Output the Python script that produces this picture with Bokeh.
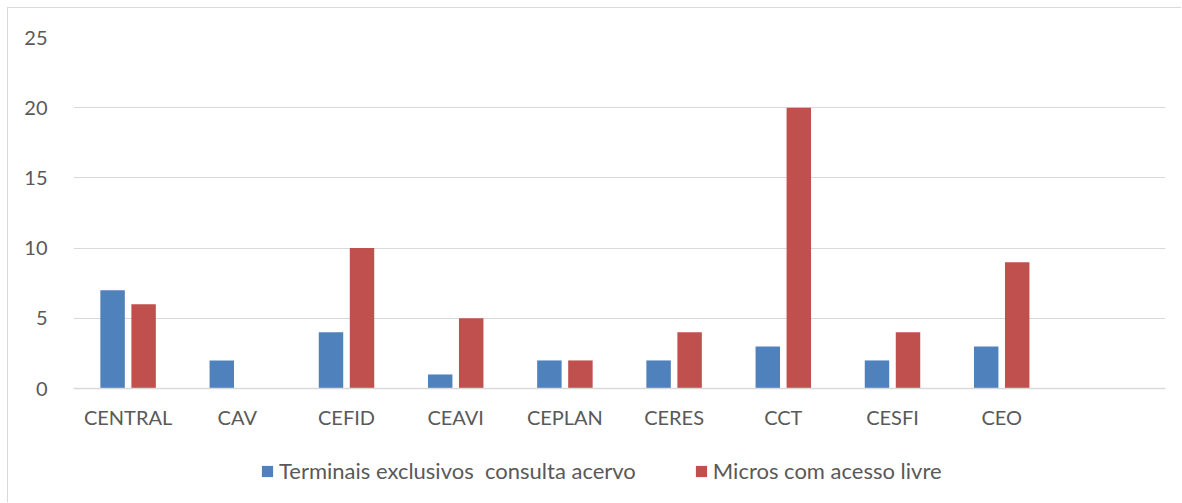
from bokeh.plotting import figure
from bokeh.models import (ColumnDataSource, FactorRange, Range1d, Legend, LegendItem,
                          FixedTicker)
from bokeh.transform import dodge
from bokeh.embed import file_html
from bokeh.resources import INLINE

categories = ["CENTRAL", "CAV", "CEFID", "CEAVI", "CEPLAN", "CERES", "CCT", "CESFI", "CEO"]
terminais = [7, 2, 4, 1, 2, 2, 3, 2, 3]
micros = [6, 0, 10, 5, 2, 4, 20, 4, 9]
series_names = ["Terminais exclusivos  consulta acervo", "Micros com acesso livre"]
y_ticks = [0, 5, 10, 15, 20, 25]

FONT = "Lato"
TXT = "#595959"
GRID = "#d9d9d9"

src = ColumnDataSource(dict(cat=categories, t=terminais, m=micros))

factors = categories + [" "]
# frame extends below zero to hold the axis labels and the legend
p = figure(x_range=FactorRange(factors=factors), y_range=Range1d(-8.19, 25),
           width=1174, height=495, output_backend="svg", toolbar_location=None,
           min_border_left=65, min_border_right=17, min_border_top=29, min_border_bottom=0,
           styles={"margin-left": "7px", "margin-top": "7px",
                   "border-top": "1px solid #d9d9d9", "border-left": "1px solid #d9d9d9"})
p.outline_line_color = None
p.background_fill_color = "white"
p.border_fill_color = "white"

r1 = p.vbar(x=dodge("cat", -0.142, range=p.x_range), top="t", width=0.224, source=src,
            fill_color="#4F81BD", line_color=None)
r2 = p.vbar(x=dodge("cat", 0.142, range=p.x_range), top="m", width=0.224, source=src,
            fill_color="#C0504D", line_color=None)

p.xgrid.grid_line_color = None
p.ygrid.grid_line_color = GRID
p.ygrid.grid_line_width = 1

p.yaxis.ticker = FixedTicker(ticks=y_ticks)
p.yaxis.axis_line_color = None
p.yaxis.major_tick_line_color = None
p.yaxis.minor_tick_line_color = None
p.yaxis.major_label_standoff = 20
p.yaxis.major_label_text_font = FONT
p.yaxis.major_label_text_font_size = "20px"
p.yaxis.major_label_text_color = TXT

p.xaxis.fixed_location = 0
p.xaxis.axis_line_color = GRID
p.xaxis.axis_line_width = 1.5
p.xaxis.major_tick_line_color = None
p.xaxis.minor_tick_line_color = None
p.xaxis.major_label_standoff = 10
p.xaxis.major_label_text_font = FONT
p.xaxis.major_label_text_font_size = "20px"
p.xaxis.major_label_text_color = TXT

legend = Legend(items=[LegendItem(label=series_names[0], renderers=[r1]),
                       LegendItem(label=series_names[1], renderers=[r2])],
                orientation="horizontal", location=(187, 19),
                glyph_width=14, glyph_height=14, label_standoff=5, spacing=58,
                padding=0, margin=0, border_line_color=None, background_fill_alpha=0,
                label_text_font=FONT, label_text_font_size="22px", label_text_color=TXT,
                label_height=24)
p.add_layout(legend, "center")

open("out.html", "w").write(file_html(p, INLINE))
